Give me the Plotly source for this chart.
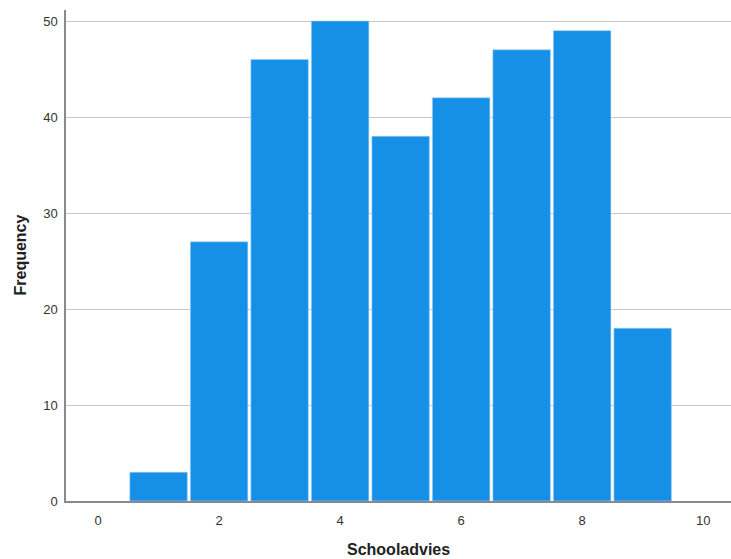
import plotly.graph_objects as go

categories = [1, 2, 3, 4, 5, 6, 7, 8, 9]
frequency = [3, 27, 46, 50, 38, 42, 47, 49, 18]
x_ticks = [0, 2, 4, 6, 8, 10]
y_ticks = [0, 10, 20, 30, 40, 50]

fig = go.Figure()
fig.add_trace(go.Bar(
    x=categories, y=frequency, width=0.95,
    marker=dict(color="#1590E6", line=dict(width=0.6, color="#9fd0f5")),
))

fig.update_layout(
    width=731, height=559,
    margin=dict(l=66, r=0, t=10, b=58),
    paper_bgcolor="white", plot_bgcolor="white",
    showlegend=False,
    font=dict(family="Liberation Sans, Arial, sans-serif", size=12, color="#333333"),
    xaxis=dict(
        range=[-0.53, 10.46], tickvals=x_ticks, ticktext=[str(v) for v in x_ticks],
        showgrid=False, zeroline=False, showline=True, linecolor="#8a8a8a", linewidth=1.5,
        ticks="outside", ticklen=7, tickcolor="rgba(0,0,0,0)",
        tickfont=dict(size=13, color="#333333"),
    ),
    yaxis=dict(
        range=[0, 51.15], tickvals=y_ticks, ticktext=[str(v) for v in y_ticks],
        showgrid=True, gridcolor="#c8c8c8", gridwidth=1, zeroline=False,
        showline=True, linecolor="#8a8a8a", linewidth=1.5,
        ticks="outside", ticklen=4, tickcolor="rgba(0,0,0,0)",
        tickfont=dict(size=13, color="#333333"),
    ),
)
fig.add_annotation(text="<b>Schooladvies</b>", x=0.5, xref="paper", y=0, yref="paper",
                   yshift=-48, yanchor="middle", showarrow=False,
                   font=dict(size=16, color="#222222"))
fig.add_annotation(text="<b>Frequency</b>", x=0, xref="paper", y=0.5, yref="paper",
                   xshift=-46, xanchor="center", yanchor="middle", textangle=-90,
                   showarrow=False, font=dict(size=16, color="#222222"))

fig.write_html("out.html", config={"displayModeBar": False},
               post_script="document.body.style.margin='0';document.body.style.overflow='hidden';")
